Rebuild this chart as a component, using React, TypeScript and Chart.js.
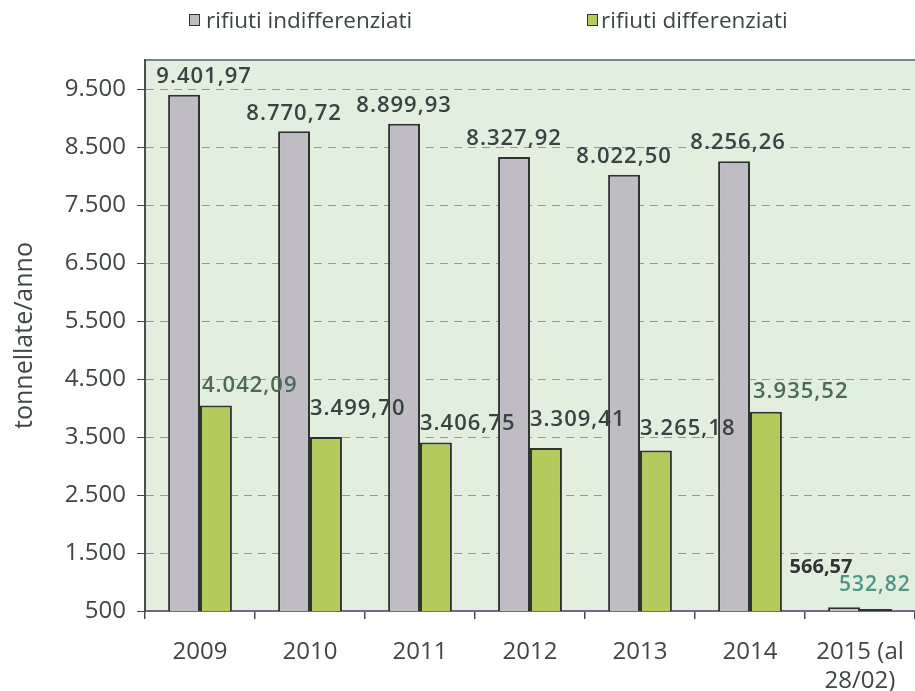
import React, { useEffect, useRef } from "react";
import { Chart, registerables } from "chart.js";

Chart.register(...registerables);

const categories: (string | string[])[] = ["2009", "2010", "2011", "2012", "2013", "2014", ["2015 (al", "28/02)"]];
const indifferenziati = [9401.97, 8770.72, 8899.93, 8327.92, 8022.5, 8256.26, 566.57];
const differenziati = [4042.09, 3499.7, 3406.75, 3309.41, 3265.18, 3935.52, 532.82];
const yTickValues = [500, 1500, 2500, 3500, 4500, 5500, 6500, 7500, 8500, 9500];
const seriesNames = ["rifiuti indifferenziati", "rifiuti differenziati"];

const FONT = "'Open Sans', 'DejaVu Sans', sans-serif";
const GRAY = "#bfbdc3";
const GREEN = "#b4ca5c";
const EDGE = "#2e3431";

function fmt(v: number, dec: number): string {
  const fixed = v.toFixed(dec);
  const [intPart, decPart] = fixed.split(".");
  const withDots = intPart.replace(/\B(?=(\d{3})+(?!\d))/g, ".");
  return decPart ? withDots + "," + decPart : withDots;
}

// label placement styles per dataset
const labelStyle = [
  {
    dx: [20, 0, 0, 0, 0, 4, -23],
    dy: [18, 18, 18, 18, 18, 18, 40],
    align: ["center", "center", "center", "center", "center", "center", "center"],
    color: ["#384342", "#384342", "#384342", "#384342", "#384342", "#384342", "#2f3533"],
    weight: ["600", "600", "600", "600", "600", "600", "700"],
    size: [22, 22, 22, 22, 22, 22, 20],
    spacing: ["1px", "1px", "1px", "1px", "1px", "1px", "0px"],
  },
  {
    dx: [2, 0, 0, 0, 0, 3, -1],
    dy: [20, 28, 19, 28, 22, 20, 24],
    align: ["left", "left", "left", "left", "left", "left", "center"],
    color: ["#4a6a5a", "#384342", "#384342", "#384342", "#384342", "#4a6a5a", "#4f9484"],
    weight: ["600", "600", "600", "600", "600", "600", "600"],
    size: [22, 22, 22, 22, 22, 22, 21],
    spacing: ["1px", "1px", "1px", "1px", "1px", "1px", "1px"],
  },
];

const bgPlugin = {
  id: "plotBg",
  beforeDraw(chart: any) {
    const { ctx, chartArea } = chart;
    ctx.save();
    ctx.fillStyle = "#e2efde";
    ctx.fillRect(chartArea.left, chartArea.top, chartArea.right - chartArea.left, chartArea.bottom - chartArea.top);
    ctx.strokeStyle = "#7d8683";
    ctx.lineWidth = 2;
    ctx.beginPath();
    ctx.moveTo(chartArea.left, chartArea.top);
    ctx.lineTo(chartArea.right, chartArea.top);
    ctx.stroke();
    ctx.restore();
  },
};

const labelPlugin = {
  id: "barLabels",
  afterDatasetsDraw(chart: any) {
    const { ctx } = chart;
    ctx.save();
    chart.data.datasets.forEach((ds: any, di: number) => {
      const meta = chart.getDatasetMeta(di);
      const st = labelStyle[di];
      meta.data.forEach((bar: any, i: number) => {
        const v = ds.data[i];
        const txt = fmt(v, 2);
        ctx.font = `${st.weight[i]} ${st.size[i]}px ${FONT}`;
        (ctx as any).letterSpacing = st.spacing[i];
        ctx.fillStyle = st.color[i];
        ctx.textBaseline = "middle";
        let x: number;
        if (st.align[i] === "left") {
          x = bar.x - bar.width / 2 + st.dx[i];
          ctx.textAlign = "left";
        } else {
          x = bar.x + st.dx[i];
          ctx.textAlign = "center";
        }
        ctx.fillText(txt, x, bar.y - st.dy[i]);
      });
    });
    ctx.restore();
  },
};

export default function App() {
  const canvasRef = useRef<HTMLCanvasElement | null>(null);

  useEffect(() => {
    const canvas = canvasRef.current;
    if (!canvas) return;
    const chart = new Chart(canvas, {
      type: "bar",
      data: {
        labels: categories,
        datasets: [
          {
            label: seriesNames[0],
            data: indifferenziati,
            backgroundColor: GRAY,
            borderColor: EDGE,
            borderWidth: 2,
            barPercentage: 1,
            categoryPercentage: 0.58,
          },
          {
            label: seriesNames[1],
            data: differenziati,
            backgroundColor: GREEN,
            borderColor: EDGE,
            borderWidth: 2,
            barPercentage: 1,
            categoryPercentage: 0.58,
          },
        ],
      },
      options: {
        responsive: false,
        animation: false,
        layout: { padding: { top: 60, left: 0, right: 0, bottom: 0 } },
        plugins: {
          legend: { display: false },
          tooltip: { enabled: false },
        },
        scales: {
          x: {
            grid: {
              display: true,
              drawOnChartArea: false,
              offset: true,
              tickLength: 8,
              tickColor: "#4a4a4a",
              lineWidth: 1.5,
            },
            border: { display: true, color: "#76668a", width: 2 },
            ticks: {
              color: "#404646",
              font: { family: FONT, size: 24 },
              padding: 19,
              maxRotation: 0,
              autoSkip: false,
            },
            afterFit(scale: any) {
              scale.height = 80;
              scale.paddingRight = 0;
              scale.paddingLeft = 0;
            },
          },
          y: {
            min: 500,
            max: 10000,
            afterBuildTicks(scale: any) {
              scale.ticks = yTickValues.map((v) => ({ value: v }));
            },
            grid: {
              color: "#8f9b96",
              lineWidth: 1,
              tickLength: 8,
              tickColor: "#444",
              tickBorderDash: [],
            },
            border: { display: true, color: "#4a4f4d", width: 2, dash: [8, 6] },
            ticks: {
              color: "#404646",
              font: { family: FONT, size: 24 },
              padding: 11,
              callback: (v: any) => fmt(Number(v), 0),
            },
            title: {
              display: true,
              text: "tonnellate/anno",
              color: "#404646",
              font: { family: FONT, size: 25 },
              padding: { top: 10, bottom: 0 },
            },
            afterFit(scale: any) {
              scale.width = 145;
            },
          },
        },
      },
      plugins: [bgPlugin, labelPlugin],
    } as any);
    return () => chart.destroy();
  }, []);

  const legendText: React.CSSProperties = {
    position: "absolute",
    top: 5,
    fontFamily: FONT,
    fontSize: 22.5,
    color: "#3d4444",
    lineHeight: "30px",
    whiteSpace: "nowrap",
  };
  const sq = (color: string, left: number): React.CSSProperties => ({
    position: "absolute",
    left,
    top: 14,
    width: 9,
    height: 10,
    background: color,
    border: `1.5px solid ${EDGE}`,
  });

  return (
    <div style={{ position: "fixed", left: 0, top: 0, width: 915, height: 691, background: "#fff", overflow: "hidden" }}>
      <canvas ref={canvasRef} width={915} height={691} style={{ position: "absolute", left: 0, top: 0 }} />
      <div style={sq(GRAY, 189)} />
      <div style={{ ...legendText, left: 206 }}>{seriesNames[0]}</div>
      <div style={sq(GREEN, 587)} />
      <div style={{ ...legendText, left: 601 }}>{seriesNames[1]}</div>
    </div>
  );
}
